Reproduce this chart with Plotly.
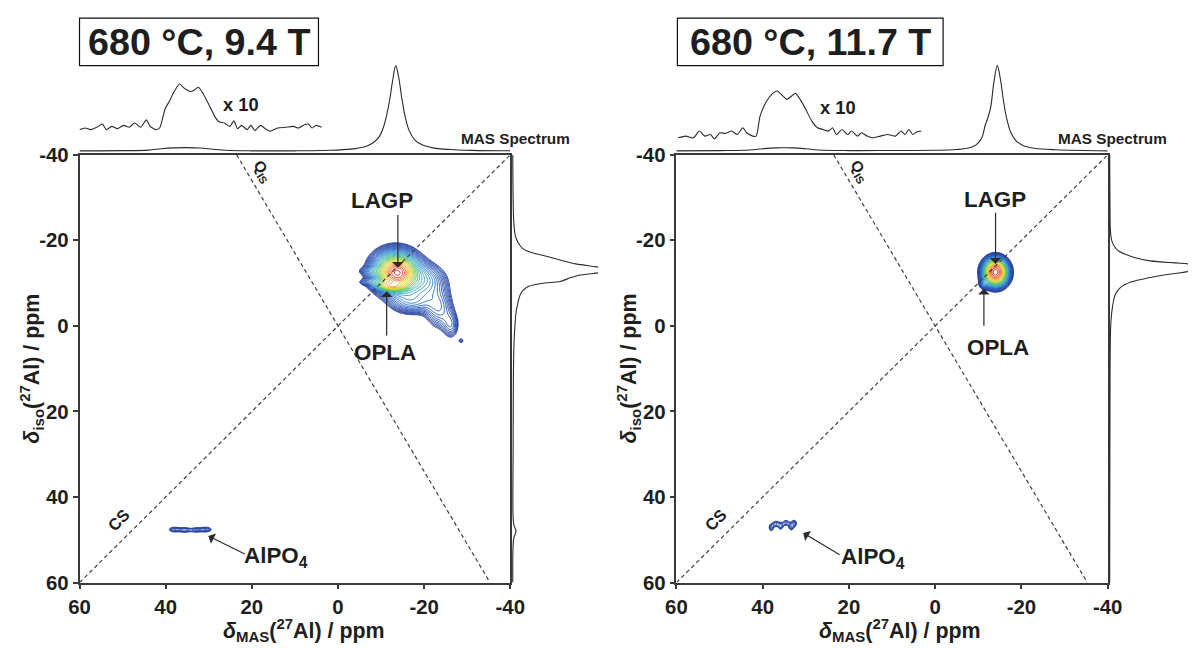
import numpy as np
import plotly.graph_objects as go

FONT = "Liberation Sans, Arial, sans-serif"
INK = "#1e1e1e"
FRAME = "#3a3a3a"
# Placement is worked out in final picture pixels (1195 x 648).  The page keeps
# the 8 px default body margin and the captured page area is 1211 x 664, so a
# picture pixel T corresponds to page pixel T / SX (or T / SY).
PIC_W, PIC_H, BODY = 1195, 648, 8
SX, SY = 1195 / 1211, 648 / 664
W, H = 1211 - BODY, 664 - BODY
FS = 1 / (0.5 * (SX + SY))  # font compensation for that capture scale

# ---------------- 1D projections (ppm, normalised intensity) ----------------
# 9.4 T, MAS (F2) projection
mas_ppm_94 = [60, 50, 44, 41, 38, 35, 32, 29, 26, 20, 10, 2, -3, -6, -8, -9.5, -10.5,
              -11.3, -12, -12.7, -13.4, -14.1, -14.8, -15.6, -16.5, -17.8, -19.5, -22,
              -26, -31, -40]
mas_int_94 = [0, 0.002, 0.008, 0.025, 0.035, 0.038, 0.033, 0.018, 0.006, 0, 0, 0.006,
              0.02, 0.045, 0.09, 0.16, 0.27, 0.42, 0.6, 0.83, 1.0, 0.86, 0.62, 0.4, 0.24,
              0.13, 0.07, 0.035, 0.015, 0.005, 0]
# 9.4 T, AlPO4 region magnified x10 (offset above the baseline)
x10_ppm_94 = [60.0, 58.7, 57.4, 56.0, 54.7, 53.8, 52.5, 51.2, 49.8, 48.5, 47.2, 45.8, 44.5,
              43.6, 42.3, 41.4, 40.1, 39.2, 38.3, 36.8, 35.7, 34.3, 33.5, 32.4, 31.3, 29.9,
              28.6, 27.7, 26.4, 25.1, 24.2, 23.3, 22.4, 21.1, 20.2, 19.3, 18.0, 16.6, 15.8,
              14.0, 12.2, 10.4, 9.1, 7.8, 6.9, 6.0, 5.1, 3.8]
x10_int_94 = [0.249, 0.268, 0.249, 0.276, 0.314, 0.249, 0.287, 0.261, 0.299, 0.276, 0.326,
              0.276, 0.364, 0.287, 0.249, 0.268, 0.498, 0.575, 0.670, 0.785, 0.736, 0.697,
              0.709, 0.747, 0.670, 0.536, 0.402, 0.345, 0.326, 0.287, 0.352, 0.261, 0.299,
              0.249, 0.299, 0.238, 0.299, 0.249, 0.230, 0.268, 0.276, 0.287, 0.268, 0.307,
              0.314, 0.268, 0.299, 0.276]
# 9.4 T, isotropic (F1) projection
iso_ppm_94 = [-40, -30, -24, -21, -19.5, -18.2, -17.2, -16.4, -15.4, -14.5, -13.8, -13.0,
              -12.4, -11.8, -11.0, -10.4, -9.9, -9.0, -7.5, -5, -3, 0, 5, 15, 30, 44, 46.5,
              48, 49.5, 52, 60]
iso_int_94 = [0, 0.003, 0.01, 0.025, 0.05, 0.09, 0.17, 0.3, 0.45, 0.6, 0.8, 1.0, 0.82,
              0.62, 0.52, 0.45, 0.27, 0.13, 0.075, 0.045, 0.03, 0.02, 0.01, 0.005, 0.003,
              0.002, 0.01, 0.03, 0.01, 0.002, 0]

# 11.7 T, MAS (F2) projection
mas_ppm_117 = [60, 50, 43, 40, 37, 33, 30, 27, 20, 10, 0, -5, -8, -9.5, -10.8, -11.6, -12.3,
               -12.9, -13.6, -14.4, -15.1, -15.8, -16.5, -17.5, -18.7, -20.5, -23, -28, -40]
mas_int_117 = [0, 0.003, 0.01, 0.025, 0.035, 0.035, 0.025, 0.01, 0.003, 0.004, 0.006, 0.015,
               0.035, 0.07, 0.15, 0.3, 0.4, 0.52, 0.8, 1.0, 0.85, 0.6, 0.4, 0.22, 0.12, 0.06,
               0.03, 0.012, 0]
# 11.7 T, AlPO4 region magnified x10
x10_ppm_117 = [59.6, 57.8, 56.0, 54.7, 53.4, 52.1, 51.2, 49.9, 48.6, 47.2, 45.9, 44.6, 43.7,
               42.3, 41.5, 40.6, 39.3, 37.9, 36.6, 35.3, 34.4, 33.5, 32.4, 31.3, 30.0, 28.6,
               27.3, 26.0, 24.7, 23.8, 22.9, 21.6, 20.3, 19.4, 18.0, 17.1, 15.8, 14.5, 12.7,
               11.0, 9.2, 7.9, 7.0, 6.1, 5.2, 4.3, 3.2]
x10_int_117 = [0.153, 0.173, 0.153, 0.232, 0.173, 0.192, 0.141, 0.212, 0.204, 0.232, 0.192,
               0.271, 0.212, 0.173, 0.173, 0.408, 0.565, 0.663, 0.702, 0.643, 0.604, 0.635,
               0.675, 0.604, 0.486, 0.349, 0.271, 0.251, 0.232, 0.271, 0.192, 0.251, 0.192,
               0.232, 0.173, 0.212, 0.173, 0.153, 0.173, 0.192, 0.173, 0.232, 0.192, 0.251,
               0.192, 0.22, 0.232]
# 11.7 T, isotropic (F1) projection
iso_ppm_117 = [-40, -28, -22, -20, -18.5, -17.5, -16.9, -16, -15.2, -14.5, -13.6, -12.7, -12,
               -11.3, -10.3, -9.0, -7.5, -6, -3, 0.3, 10, 30, 60]
iso_int_117 = [0, 0.003, 0.008, 0.02, 0.05, 0.09, 0.14, 0.25, 0.41, 0.79, 1.0, 0.79, 0.58,
               0.41, 0.22, 0.11, 0.06, 0.04, 0.02, 0.01, 0.004, 0.002, 0]

# ---------------- 2D MQMAS peak components ----------------
# centre (delta_MAS, delta_iso) in ppm, widths (ppm) along MAS / iso, relative amplitude
p94_mas = [-13.8, -13.4, -12.3, -8.0, -7.8, -20.0, -17.0, -23.5, -26.3, -28.6]
p94_iso = [-12.4, -12.6, -9.3, -12.8, -10.2, -10.5, -5.5, -4.0, 0.0, 3.5]
p94_wm = [1.8, 3.3, 1.9, 2.0, 2.0, 3.3, 3.2, 2.2, 1.3, 0.5]
p94_wi = [1.6, 3.0, 0.6, 0.6, 0.5, 2.6, 1.9, 3.2, 2.2, 0.5]
p94_amp = [0.50, 0.42, 0.30, 0.05, 0.05, 0.11, 0.09, 0.08, 0.055, 0.04]

alpo_94_mas = [38.0, 35.5, 33.0, 30.6]
alpo_94_iso = [47.6, 47.7, 47.7, 47.6]
alpo_94_wm = [1.1, 1.0, 1.0, 1.1]
alpo_94_wi = [0.5, 0.5, 0.5, 0.5]
alpo_94_amp = [0.055, 0.05, 0.045, 0.055]

p117_mas = [-14.0, -14.0, -11.3]
p117_iso = [-12.6, -12.5, -9.8]
p117_wm = [1.3, 2.0, 0.7]
p117_wi = [1.5, 2.2, 0.8]
p117_amp = [0.72, 0.24, 0.06]

alpo_117_mas = [38.0, 36.9, 35.8, 34.6, 33.4, 32.6]
alpo_117_iso = [47.1, 46.2, 46.8, 46.0, 46.9, 46.1]
alpo_117_wm = [0.5, 0.55, 0.5, 0.55, 0.5, 0.45]
alpo_117_wi = [0.8, 0.6, 0.7, 0.6, 0.8, 0.7]
alpo_117_amp = [0.05, 0.045, 0.05, 0.045, 0.05, 0.045]

axis_ticks = [60, 40, 20, 0, -20, -40]
axis_ticktext = ["60", "40", "20", "0", "-20", "-40"]

# reference lines: chemical-shift diagonal and quadrupolar-induced-shift axis
cs_line = ([60, -40], [60, -40])
qis_line = ([23.53, -35.29], [-40, 60])

JET = [[0.0, "#1f3a96"], [0.25, "#2452b8"], [0.4, "#2f86d2"], [0.5, "#2fb2c4"],
       [0.6, "#4cbd6c"], [0.7, "#a6d23a"], [0.78, "#f2d62c"], [0.87, "#f39327"],
       [0.94, "#e8431f"], [1.0, "#d9201b"]]
LEV_START, LEV_END, LEV_STEP = -1.5, -0.05, 0.05


def spectrum2d(mas_axis, iso_axis, m0, i0, wm, wi, amp):
    M, I = np.meshgrid(mas_axis, iso_axis)
    Z = np.zeros_like(M)
    for a, b, c, d, e in zip(m0, i0, wm, wi, amp):
        Z += e * np.exp(-0.5 * ((M - a) / c) ** 2 - 0.5 * ((I - b) / d) ** 2)
    return np.round(np.log10(np.maximum(Z, 1e-4)), 3)


def contour(mas_axis, iso_axis, z, xa, ya):
    return go.Contour(
        x=mas_axis, y=iso_axis, z=z, xaxis=xa, yaxis=ya,
        contours=dict(start=LEV_START, end=LEV_END, size=LEV_STEP, coloring="lines"),
        colorscale=JET, zmin=LEV_START, zmax=0, line=dict(width=1),
        showscale=False, hoverinfo="skip")


def px(x):
    return min(1.0, max(0.0, (x / SX - BODY) / W))


def py(y):
    return min(1.0, max(0.0, 1 - (y / SY - BODY) / H))


def fs(size):
    return round(size * FS, 1)


fig = go.Figure()

main_mas = np.round(np.arange(-35, 0.01, 0.2), 2)
main_iso = np.round(np.arange(-25, 8.01, 0.2), 2)
alpo_mas = np.round(np.arange(25, 45.01, 0.15), 2)
alpo_iso = np.round(np.arange(42, 53.01, 0.15), 2)

panels = [
    dict(xa="x", ya="y", ta="y3", ia="x5",
         peaks=(p94_mas, p94_iso, p94_wm, p94_wi, p94_amp),
         alpo=(alpo_94_mas, alpo_94_iso, alpo_94_wm, alpo_94_wi, alpo_94_amp),
         mas=(mas_ppm_94, mas_int_94), x10=(x10_ppm_94, x10_int_94),
         iso=(iso_ppm_94, iso_int_94)),
    dict(xa="x2", ya="y2", ta="y4", ia="x6",
         peaks=(p117_mas, p117_iso, p117_wm, p117_wi, p117_amp),
         alpo=(alpo_117_mas, alpo_117_iso, alpo_117_wm, alpo_117_wi, alpo_117_amp),
         mas=(mas_ppm_117, mas_int_117), x10=(x10_ppm_117, x10_int_117),
         iso=(iso_ppm_117, iso_int_117)),
]

line_style = dict(color="#2a2a2a", width=1.1)
for p in panels:
    fig.add_trace(contour(main_mas, main_iso, spectrum2d(main_mas, main_iso, *p["peaks"]),
                          p["xa"], p["ya"]))
    fig.add_trace(contour(alpo_mas, alpo_iso, spectrum2d(alpo_mas, alpo_iso, *p["alpo"]),
                          p["xa"], p["ya"]))
    for xs, ys in (cs_line, qis_line):
        fig.add_trace(go.Scatter(x=xs, y=ys, mode="lines", xaxis=p["xa"], yaxis=p["ya"],
                                 line=dict(color="#404040", width=1.2, dash="4px,3px"),
                                 hoverinfo="skip", showlegend=False))
    fig.add_trace(go.Scatter(x=p["mas"][0], y=p["mas"][1], mode="lines", line_shape="spline",
                             xaxis=p["xa"], yaxis=p["ta"], line=line_style,
                             hoverinfo="skip", showlegend=False))
    fig.add_trace(go.Scatter(x=p["x10"][0], y=p["x10"][1], mode="lines", line_shape="spline",
                             xaxis=p["xa"], yaxis=p["ta"],
                             line=dict(line_style, smoothing=0.6),
                             hoverinfo="skip", showlegend=False))
    fig.add_trace(go.Scatter(x=p["iso"][1], y=p["iso"][0], mode="lines", line_shape="spline",
                             xaxis=p["ia"], yaxis=p["ya"], line=line_style,
                             hoverinfo="skip", showlegend=False))

ax2d = dict(range=[60, -40], showgrid=False, zeroline=False, showline=True,
            linecolor=FRAME, linewidth=1.5, mirror=True, ticks="outside", ticklen=5,
            tickwidth=1.5, tickcolor=FRAME, tickvals=axis_ticks, ticktext=axis_ticktext,
            tickfont=dict(family=FONT, size=fs(20), color=INK, weight="bold"))
hidden = dict(visible=False, showgrid=False, zeroline=False)

# top projection: baseline at y=149 px, unit height 86 px
top_rng = [(149 - 155) / 86, (149 - 55) / 86]
fig.update_layout(
    width=W, height=H, margin=dict(l=0, r=0, t=0, b=0),
    paper_bgcolor="white", plot_bgcolor="rgba(0,0,0,0)", showlegend=False,
    xaxis=dict(ax2d, domain=[px(77), px(511.5)], anchor="y"),
    yaxis=dict(ax2d, domain=[py(585), py(153)], anchor="x"),
    xaxis2=dict(ax2d, domain=[px(679), px(1114)], anchor="y2"),
    yaxis2=dict(ax2d, domain=[py(585), py(153)], anchor="x2"),
    yaxis3=dict(hidden, domain=[py(155), py(55)], range=top_rng, anchor="x"),
    yaxis4=dict(hidden, domain=[py(155), py(55)], range=top_rng, anchor="x2"),
    xaxis5=dict(hidden, domain=[px(511), px(600)],
                range=[(511 - 514) / 106, (600 - 514) / 106], anchor="y"),
    xaxis6=dict(hidden, domain=[px(1114), px(PIC_W)],
                range=[(1114 - 1116) / 100, (PIC_W - 1116) / 100], anchor="y2"),
)

ann = []


def label(x, y, text, size, xref="paper", yref="paper", angle=0):
    ann.append(dict(x=x, y=y, xref=xref, yref=yref, text=text, showarrow=False,
                    xanchor="center", yanchor="middle", textangle=angle,
                    font=dict(family=FONT, size=fs(size), color=INK, weight="bold")))


def arrow(xa, ya, tip, tail):
    ann.append(dict(x=tip[0], y=tip[1], ax=tail[0], ay=tail[1], xref=xa, yref=ya,
                    axref=xa, ayref=ya, text="", showarrow=True, arrowhead=1,
                    arrowsize=1.6, arrowwidth=1.2, arrowcolor="#2a2a2a"))


shapes = []
titles = [("680 °C, 9.4 T", 77, 318), ("680 °C, 11.7 T", 680, 948)]
for text, x0, x1 in titles:
    shapes.append(dict(type="rect", xref="paper", yref="paper", x0=px(x0), x1=px(x1),
                       y0=py(63), y1=py(15), line=dict(color="#111", width=1.2)))
    label(px((x0 + x1) / 2), py(39), text, 37)

xtitle = "<i>δ</i><sub>MAS</sub>(<sup>27</sup>Al) / ppm"
ytitle = "<i>δ</i><sub>iso</sub>(<sup>27</sup>Al) / ppm"
for off, xa, ya in ((0, "x", "y"), (602, "x2", "y2")):
    label(px(303 + off), py(633), xtitle, 21)
    label(px(28 + off), py(369), ytitle, 21, angle=-90)
    label(px(240 + off), py(102 + off / 200), "x 10", 18)
    label(px(517 + off), py(137), "MAS Spectrum", 15)
    label(51.0, 45.3, "CS", 16, xref=xa, yref=ya, angle=-45)
    label(17.6, -36.0, "Q<sub>IS</sub>", 15, xref=xa, yref=ya, angle=59)

# peak assignments, 9.4 T
label(-10.2, -29.4, "LAGP", 22, xref="x", yref="y")
arrow("x", "y", (-13.9, -13.6), (-13.9, -26.3))
label(-10.9, 6.1, "OPLA", 22, xref="x", yref="y")
arrow("x", "y", (-11.3, -8.1), (-11.3, 2.6))
label(14.4, 54.0, "AlPO<sub>4</sub>", 22, xref="x", yref="y")
arrow("x", "y", (30.1, 49.1), (21.3, 53.5))
# peak assignments, 11.7 T
label(-13.8, -29.6, "LAGP", 22, xref="x2", yref="y2")
arrow("x2", "y2", (-14.0, -14.5), (-14.0, -26.8))
label(-14.5, 5.1, "OPLA", 22, xref="x2", yref="y2")
arrow("x2", "y2", (-11.3, -8.7), (-11.3, 0.3))
label(14.5, 54.2, "AlPO<sub>4</sub>", 22, xref="x2", yref="y2")
arrow("x2", "y2", (30.6, 48.4), (21.8, 53.7))

fig.update_layout(annotations=ann, shapes=shapes)
fig.write_html("out.html")
